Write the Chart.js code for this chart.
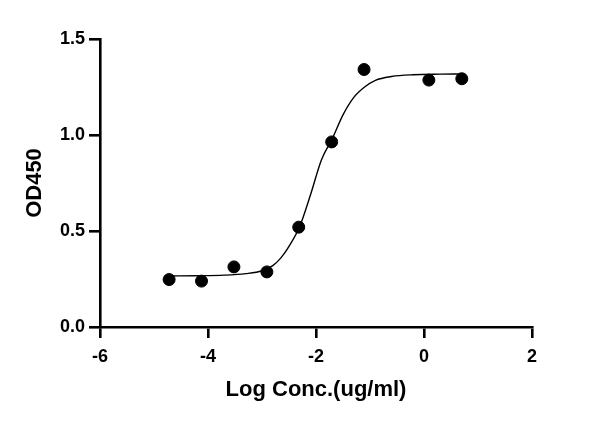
<!DOCTYPE html>
<html>
<head>
<meta charset="utf-8">
<script src="https://cdn.jsdelivr.net/npm/chart.js@4/dist/chart.umd.min.js"></script>
<style>
  body { margin: 0; background: #fff; }
  #wrap { width: 600px; height: 423px; }
</style>
</head>
<body>
<div id="wrap"><canvas id="chart" width="600" height="423"></canvas></div>
<script>
// measured points (log conc, OD450)
const logConc = [-4.72, -4.12, -3.52, -2.91, -2.32, -1.71, -1.11, 0.09, 0.70];
const od450 = [0.247, 0.239, 0.313, 0.287, 0.520, 0.964, 1.341, 1.286, 1.293];

// fitted curve
const curveX = [-4.72, -4.2, -3.7, -3.3, -3.0, -2.8, -2.65, -2.5, -2.3, -2.1, -1.9, -1.7, -1.5, -1.3, -1.1, -0.9, -0.6, -0.2, 0.3, 0.7];
const curveY = [0.266, 0.267, 0.270, 0.278, 0.293, 0.320, 0.360, 0.420, 0.525, 0.690, 0.870, 0.980, 1.105, 1.196, 1.250, 1.285, 1.305, 1.314, 1.317, 1.318];

const xTicks = [-6, -4, -2, 0, 2];
const yTicks = [0, 0.5, 1.0, 1.5];

const FONT = '"Liberation Sans", Arial, sans-serif';

new Chart(document.getElementById('chart'), {
  type: 'scatter',
  data: {
    datasets: [
      {
        label: 'fit',
        data: curveX.map((x, i) => ({ x: x, y: curveY[i] })),
        showLine: true,
        borderColor: '#000',
        borderWidth: 1.4,
        pointRadius: 0,
        cubicInterpolationMode: 'monotone'
      },
      {
        label: 'OD450',
        data: logConc.map((x, i) => ({ x: x, y: od450[i] })),
        backgroundColor: '#000',
        borderColor: '#000',
        pointRadius: 6,
        pointHoverRadius: 6
      }
    ]
  },
  options: {
    responsive: false,
    animation: false,
    devicePixelRatio: 1,
    layout: { padding: { left: 0, right: 68, top: 39, bottom: 0 } },
    plugins: { legend: { display: false }, tooltip: { enabled: false } },
    scales: {
      x: {
        type: 'linear',
        min: xTicks[0],
        max: xTicks[xTicks.length - 1],
        afterBuildTicks: s => { s.ticks = xTicks.map(v => ({ value: v })); },
        afterFit: s => { s.height = 96; },
        border: { color: '#000', width: 2.6 },
        grid: { drawOnChartArea: false, color: '#000', lineWidth: 2.6, tickLength: 11 },
        ticks: {
          color: '#000', padding: 8,
          font: { family: FONT, size: 18, weight: 'bold' },
          maxRotation: 0
        },
        title: {
          display: true, text: 'Log Conc.(ug/ml)', color: '#000',
          font: { family: FONT, size: 22, weight: 'bold' },
          padding: { top: 0, bottom: 20 }
        }
      },
      y: {
        type: 'linear',
        min: yTicks[0],
        max: yTicks[yTicks.length - 1],
        afterBuildTicks: s => { s.ticks = yTicks.map(v => ({ value: v })); },
        afterFit: s => { s.width = 100; },
        border: { color: '#000', width: 2.6 },
        grid: { drawOnChartArea: false, color: '#000', lineWidth: 2.6, tickLength: 11 },
        ticks: {
          color: '#000', padding: 4,
          font: { family: FONT, size: 18, weight: 'bold' },
          callback: v => Number(v).toFixed(1)
        },
        title: {
          display: true, text: 'OD450', color: '#000',
          font: { family: FONT, size: 22, weight: 'bold' },
          padding: { top: 22, bottom: 0 }
        }
      }
    }
  }
});
</script>
</body>
</html>
